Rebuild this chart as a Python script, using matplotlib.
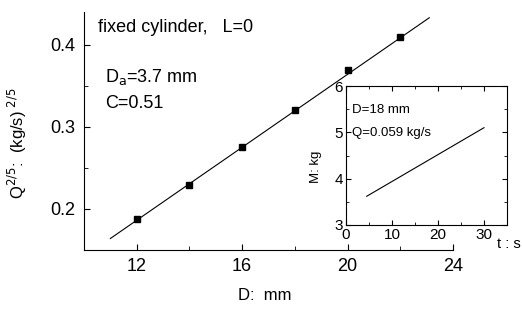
import matplotlib.pyplot as plt
from matplotlib.ticker import MultipleLocator

plt.rcParams['font.family'] = ['Liberation Sans', 'DejaVu Sans']

# main panel data
D = [12, 14, 16, 18, 20, 22]
Q25 = [0.188, 0.229, 0.276, 0.321, 0.369, 0.410]
fit_D = [11.0, 23.1]
fit_Q = [0.164, 0.433]

# inset data
t_line = [4.5, 30.0]
M_line = [3.62, 5.1]

fig = plt.figure(figsize=(5.22, 3.10), dpi=100)
ax = fig.add_axes([84/522, 1 - 250/310, (453-84)/522, (250-12)/310])
ax.plot(fit_D, fit_Q, color='black', lw=0.8)
ax.plot(D, Q25, 's', color='black', ms=4.5)
ax.set_xlim(10, 24)
ax.set_ylim(0.15, 0.44)
ax.spines['top'].set_visible(False)
ax.spines['right'].set_visible(False)
ax.xaxis.set_major_locator(MultipleLocator(4))
ax.xaxis.set_minor_locator(MultipleLocator(2))
ax.yaxis.set_major_locator(MultipleLocator(0.1))
ax.yaxis.set_minor_locator(MultipleLocator(0.05))
ax.tick_params(direction='in', labelsize=13, length=4, pad=6)
ax.tick_params(which='minor', direction='in', length=3)
ax.set_xticks([12, 16, 20, 24])
ax.set_xlabel('D:  mm', fontsize=12)
ax.xaxis.set_label_coords(0.49, -0.16)
ax.set_ylabel(r'Q$^{2/5}$:  (kg/s)$^{\ 2/5}$', fontsize=12)
ax.yaxis.set_label_coords(-0.15, 0.45)
ax.text(0.038, 0.916, 'fixed cylinder,   L=0', transform=ax.transAxes, fontsize=13)
ax.text(0.057, 0.706, r'D$_{\rm a}$=3.7 mm', transform=ax.transAxes, fontsize=13)
ax.text(0.057, 0.597, 'C=0.51', transform=ax.transAxes, fontsize=13)

ins = fig.add_axes([346/522, 1 - 225/310, (507-346)/522, (225-86)/310])
ins.plot(t_line, M_line, color='black', lw=0.8)
ins.set_xlim(0, 35)
ins.set_ylim(3, 6)
ins.xaxis.set_major_locator(MultipleLocator(10))
ins.xaxis.set_minor_locator(MultipleLocator(5))
ins.yaxis.set_major_locator(MultipleLocator(1))
ins.yaxis.set_minor_locator(MultipleLocator(0.5))
ins.tick_params(direction='in', labelsize=11, length=3.5, top=True, right=True, pad=2)
ins.tick_params(which='minor', direction='in', length=2, top=True, right=True)
ins.set_xticks([0, 10, 20, 30])
ins.set_ylabel('M: kg', fontsize=9.5)
ins.yaxis.set_label_coords(-0.15, 0.42)
ins.text(0.94, -0.165, 't : s', transform=ins.transAxes, fontsize=10.5)
ins.text(0.037, 0.806, 'D=18 mm', transform=ins.transAxes, fontsize=9.5)
ins.text(0.037, 0.64, 'Q=0.059 kg/s', transform=ins.transAxes, fontsize=9.5)

fig.savefig('out.png', dpi=100)
